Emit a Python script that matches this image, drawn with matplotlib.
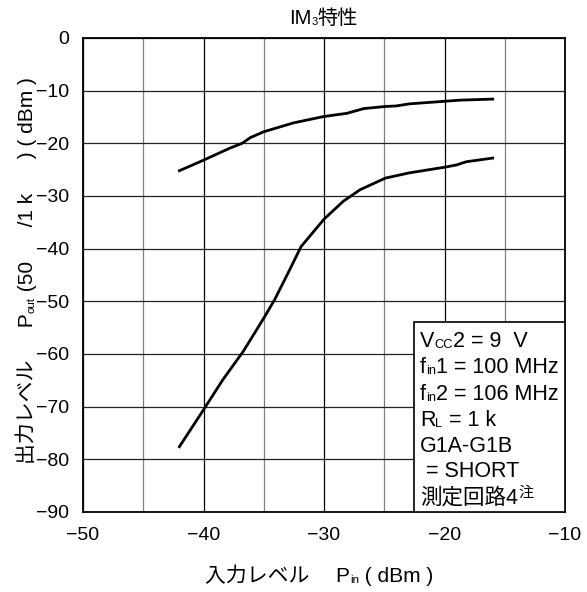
import matplotlib
matplotlib.use('Agg')
import matplotlib.pyplot as plt
from matplotlib.patches import Rectangle

FONTS = ['Liberation Sans', 'Noto Sans CJK JP']
plt.rcParams['font.family'] = FONTS

# curves
upper_x = [-42.0, -40.0, -37.8, -36.8, -36.1, -35.0, -32.5, -30.0, -28.1, -26.7, -24.9, -24.0, -22.9, -19.9, -18.7, -16.0]
upper_y = [-25.2, -23.2, -20.9, -20.0, -18.9, -17.8, -16.1, -14.9, -14.3, -13.4, -13.0, -12.9, -12.5, -12.0, -11.8, -11.6]

lower_x = [-42.0, -40.0, -38.4, -36.7, -35.0, -34.1, -33.0, -31.9, -30.0, -28.4, -27.0, -24.9, -22.9, -19.9, -19.0, -18.2, -16.0]
lower_y = [-77.6, -70.6, -64.9, -59.5, -53.2, -49.7, -44.7, -39.6, -34.4, -31.0, -28.8, -26.6, -25.6, -24.5, -24.1, -23.5, -22.8]

x_ticks = [-50, -40, -30, -20, -10]
x_minor = [-45, -35, -25, -15]
y_ticks = [0, -10, -20, -30, -40, -50, -60, -70, -80, -90]

# text pieces: (text, scale, rise in points)
title_parts = [('IM', 1.0, 0), ('3', 0.55, 0.5), ('特性', 1.0, 0)]
xlabel_parts = [('入力レベル\u3000 P', 1.0, 0), ('in', 0.55, 0.5), (' ( dBm )', 1.0, 0)]
ylabel_parts = [('出力レベル\u3000  P', 1.0, 0), ('out', 0.55, 0.5), (' (50      /1 k      ) ( dBm )', 1.0, 0)]
note_lines = [
    [('V', 1.0, 0), ('CC', 0.6, 0.5), ('2 = 9  V', 1.0, 0)],
    [('f', 1.0, 0), ('in', 0.6, 0.5), ('1 = 100 MHz', 1.0, 0)],
    [('f', 1.0, 0), ('in', 0.6, 0.5), ('2 = 106 MHz', 1.0, 0)],
    [('R', 1.0, 0), ('L', 0.6, 0.5), (' = 1 k', 1.0, 0)],
    [('G1A-G1B', 1.0, 0)],
    [(' = SHORT', 1.0, 0)],
    [('測定回路4', 1.0, 0), ('注', 0.7, 7.0)],
]

TICK_SIZE = 14
LABEL_SIZE = 15
NOTE_SIZE = 15.5
TITLE_SIZE = 14.5


def rich_text(ax, x, y, parts, size, rotation=0):
    # x, y: figure pixels of the bottom-left (or bottom for rotated) of the first piece
    prev = None
    prev_rise = 0
    for text, scale, rise in parts:
        kw = dict(fontsize=size * scale, family=FONTS, annotation_clip=False,
                  rotation=rotation, va='bottom')
        d = rise - prev_rise
        if rotation == 0:
            kw['ha'] = 'left'
            anchor, off = (1, 0), (0, d)
        else:
            kw['ha'] = 'right'
            anchor, off = (1, 1), (-d, 0)
        if prev is None:
            prev = ax.annotate(text, xy=(x, y), xycoords='figure pixels', **kw)
        else:
            prev = ax.annotate(text, xy=anchor, xycoords=prev, xytext=off,
                               textcoords='offset points', **kw)
        prev_rise = rise
    return prev


def main():
    fig = plt.figure(figsize=(5.87, 5.92), dpi=100)
    ax = fig.add_axes([83 / 587, 1 - 512 / 592, (565 - 83) / 587, (512 - 38) / 592])

    ax.set_xlim(-50, -10)
    ax.set_ylim(-90, 0)
    ax.set_xticks(x_ticks)
    ax.set_xticks(x_minor, minor=True)
    ax.set_yticks(y_ticks)
    ax.tick_params(length=0, labelsize=TICK_SIZE)
    ax.tick_params(axis='x', pad=11)
    ax.tick_params(axis='y', pad=10)
    ax.tick_params(which='minor', length=0)

    ax.grid(axis='x', which='major', color='black', linewidth=0.9)
    ax.grid(axis='x', which='minor', color='#808080', linewidth=0.9)
    ax.grid(axis='y', which='major', color='#222222', linewidth=0.9)
    ax.set_axisbelow(True)
    for spine in ax.spines.values():
        spine.set_linewidth(1.3)

    ax.plot(upper_x, upper_y, color='black', linewidth=2.0)
    ax.plot(lower_x, lower_y, color='black', linewidth=2.0)

    ax.add_patch(Rectangle((-22.5, -90), 12.5, 36.1, facecolor='white',
                           edgecolor='black', linewidth=1.2, zorder=3))

    rich_text(ax, 289, 564, title_parts, TITLE_SIZE)
    rich_text(ax, 205, 6, xlabel_parts, LABEL_SIZE)
    rich_text(ax, 37, 128, ylabel_parts, LABEL_SIZE, rotation=90)

    baselines = [348, 374, 401, 427, 453, 478, 505]
    for line, base in zip(note_lines, baselines):
        rich_text(ax, 420, 592 - base - 4, line, NOTE_SIZE)

    fig.savefig('out.png', dpi=100)


if __name__ == '__main__':
    main()
